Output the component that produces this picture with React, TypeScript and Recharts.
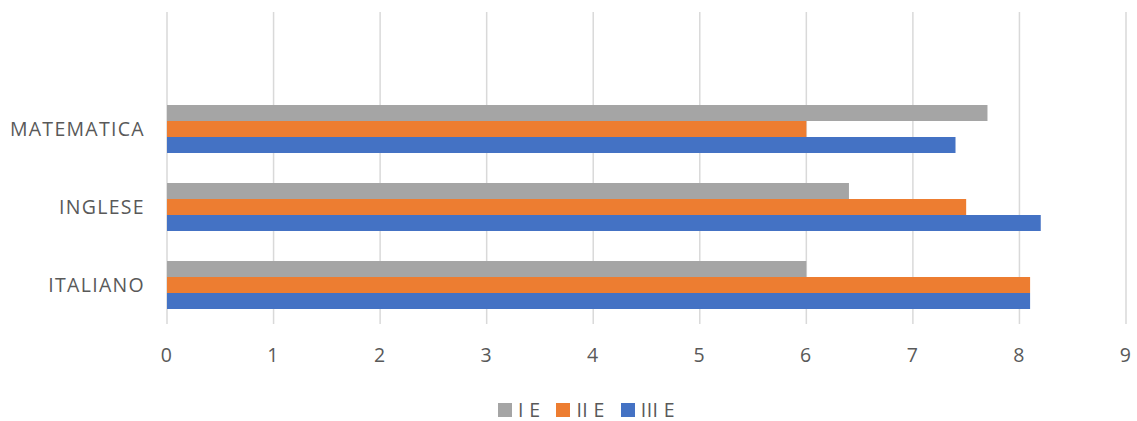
import { BarChart, Bar, XAxis, YAxis, CartesianGrid, Legend } from 'recharts';

const subjects = ['', 'MATEMATICA', 'INGLESE', 'ITALIANO'];
const classI = [null, 7.7, 6.4, 6.0];
const classII = [null, 6.0, 7.5, 8.1];
const classIII = [null, 7.4, 8.2, 8.1];
const xTicks = [0, 1, 2, 3, 4, 5, 6, 7, 8, 9];

const series = [
  { key: 'I E', color: '#A5A5A5' },
  { key: 'II E', color: '#ED7D31' },
  { key: 'III E', color: '#4472C4' },
];

const data = subjects.map((name, i) => ({
  name,
  'I E': classI[i],
  'II E': classII[i],
  'III E': classIII[i],
}));

const FONT = '"Open Sans", sans-serif';
const TEXT = '#595959';
const tickStyle = { fill: TEXT, fontSize: 19.5, fontFamily: FONT, letterSpacing: 1.3 };

function LegendContent() {
  return (
    <div style={{ display: 'flex', justifyContent: 'center', alignItems: 'center', fontFamily: FONT, fontSize: 19.5, letterSpacing: 0.4, color: TEXT }}>
      {series.map((s) => (
        <div key={s.key} style={{ display: 'flex', alignItems: 'center', margin: '0 8px' }}>
          <span style={{ display: 'inline-block', width: 14, height: 14, background: s.color, marginRight: 6 }} />
          <span>{s.key}</span>
        </div>
      ))}
    </div>
  );
}

export default function App() {
  return (
    <div style={{ position: 'absolute', left: 0, top: 0, background: '#fff' }}>
      <BarChart
        width={1137}
        height={421}
        data={data}
        layout="vertical"
        margin={{ top: 12, right: 11, bottom: 67, left: 0 }}
        barGap={0}
        barSize={16}
      >
        <CartesianGrid horizontal={false} stroke="#D9D9D9" strokeWidth={1.5} />
        <XAxis
          type="number"
          domain={[0, 9]}
          ticks={xTicks}
          axisLine={false}
          tickLine={false}
          height={30}
          tickMargin={18}
          tick={tickStyle}
        />
        <YAxis
          type="category"
          dataKey="name"
          width={167}
          axisLine={false}
          tickLine={false}
          tickMargin={16}
          tick={tickStyle}
        />
        <Legend
          verticalAlign="middle"
          align="center"
          wrapperStyle={{ top: 396, left: 18, width: 1137 }}
          content={LegendContent}
        />
        {series.map((s) => (
          <Bar key={s.key} dataKey={s.key} fill={s.color} isAnimationActive={false} />
        ))}
      </BarChart>
    </div>
  );
}
